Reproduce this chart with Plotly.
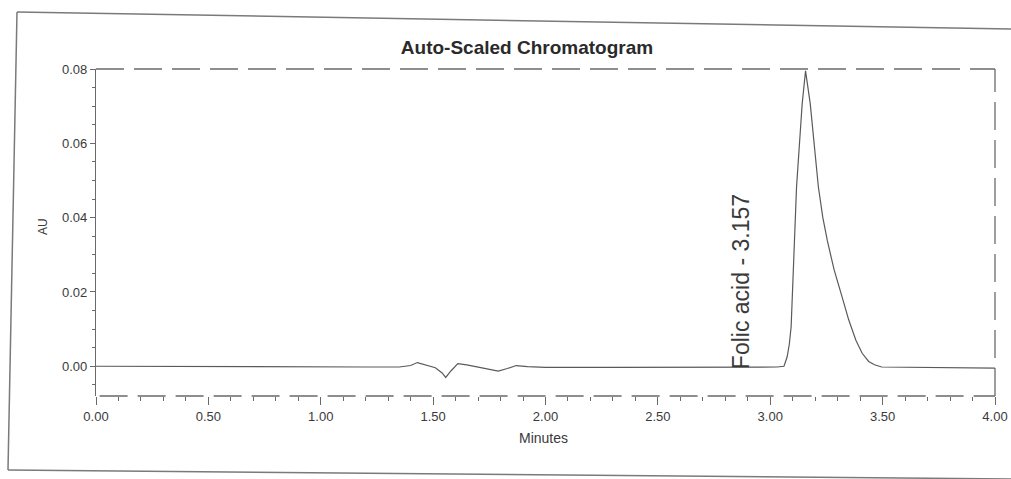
import plotly.graph_objects as go

# Retention time (min) and detector response (AU) of the trace
time_min = [0.00, 0.30, 0.60, 0.90, 1.20, 1.35, 1.40, 1.43, 1.47, 1.51, 1.54, 1.556,
            1.58, 1.61, 1.65, 1.70, 1.75, 1.79, 1.83, 1.87, 1.92, 2.00, 2.30, 2.60,
            2.90, 3.03, 3.061, 3.075, 3.085, 3.093, 3.117, 3.142, 3.157, 3.178,
            3.214, 3.234, 3.254, 3.284, 3.315, 3.349, 3.381, 3.409, 3.438, 3.464,
            3.496, 3.60, 3.80, 4.00]
absorbance = [0.0000, -0.0001, -0.0001, -0.0002, -0.0002, -0.0002, 0.0002, 0.0010,
              0.0002, -0.0004, -0.0018, -0.0030, -0.0012, 0.0007, 0.0004, -0.0002,
              -0.0008, -0.0013, -0.0006, 0.0002, -0.0001, -0.0003, -0.0003, -0.0003,
              -0.0002, -0.0002, 0.0000, 0.0025, 0.0060, 0.0107, 0.0483, 0.0706,
              0.0795, 0.0706, 0.0483, 0.0400, 0.0338, 0.0260, 0.0196, 0.0125,
              0.0070, 0.0035, 0.0013, 0.0004, -0.0002, -0.0003, -0.0004, -0.0005]

peak_name = "Folic acid"
peak_rt = 3.157
label_x = 2.867

x_ticks = [0.0, 0.5, 1.0, 1.5, 2.0, 2.5, 3.0, 3.5, 4.0]
x_tick_text = ["0.00", "0.50", "1.00", "1.50", "2.00", "2.50", "3.00", "3.50", "4.00"]
y_ticks = [0.00, 0.02, 0.04, 0.06, 0.08]
y_tick_text = ["0.00", "0.02", "0.04", "0.06", "0.08"]

W, H = 1011, 479
L, R, T, B = 96, 16, 69, 83
FONT = "Liberation Sans, Arial, sans-serif"
INK = "#6a6a6a"
TXT = "#3a3a3a"


def px(x):
    return (x - L) / (W - L - R)


def py(y):
    return (H - B - y) / (H - T - B)


fig = go.Figure()
fig.add_trace(go.Scatter(x=time_min, y=absorbance, mode="lines",
                         line=dict(color="#5a5a5a", width=1.2),
                         hoverinfo="skip", showlegend=False))

dash = "28px,10px"
shapes = [
    # dashed plot frame (top, right, bottom)
    dict(type="line", xref="paper", yref="paper", x0=0, x1=1, y0=1, y1=1,
         line=dict(color=INK, width=1.3, dash=dash)),
    dict(type="line", xref="paper", yref="paper", x0=1, x1=1, y0=0, y1=1,
         line=dict(color=INK, width=1.3, dash=dash)),
    dict(type="line", xref="paper", yref="paper", x0=0.004, x1=1, y0=0, y1=0,
         line=dict(color=INK, width=1.3, dash=dash)),
    # page frame
    dict(type="line", xref="paper", yref="paper", x0=px(17), x1=px(1011),
         y0=py(12), y1=py(29), line=dict(color="#7a7a7a", width=1.5)),
    dict(type="line", xref="paper", yref="paper", x0=px(17), x1=px(8),
         y0=py(12), y1=py(470), line=dict(color="#7a7a7a", width=1.5)),
    dict(type="line", xref="paper", yref="paper", x0=px(8), x1=px(1011),
         y0=py(470), y1=py(479), line=dict(color="#7a7a7a", width=1.5)),
]

annotations = [
    dict(x=label_x, y=0.0, xref="x", yref="y", text=f"{peak_name} - {peak_rt:.3f}",
         textangle=-90, showarrow=False, xanchor="center", yanchor="bottom",
         yshift=-5, font=dict(family=FONT, size=23, color=TXT)),
    dict(x=px(43), y=py(227), xref="paper", yref="paper", text="AU",
         textangle=-90, showarrow=False, xanchor="center", yanchor="middle",
         font=dict(family=FONT, size=12, color=TXT)),
    dict(x=px(543), y=py(438), xref="paper", yref="paper", text="Minutes",
         showarrow=False, xanchor="center", yanchor="middle",
         font=dict(family=FONT, size=14, color=TXT)),
]

fig.update_layout(
    width=W, height=H,
    margin=dict(l=L, r=R, t=T, b=B, autoexpand=False),
    paper_bgcolor="white", plot_bgcolor="white",
    title=dict(text="<b>Auto-Scaled Chromatogram</b>", x=527 / W, y=1 - 47 / H,
               xref="container", yref="container", xanchor="center", yanchor="middle",
               font=dict(family=FONT, size=19, color="#2a2a2a")),
    shapes=shapes, annotations=annotations,
    showlegend=False,
)
fig.update_xaxes(range=[0, 4], tickvals=x_ticks, ticktext=x_tick_text,
                 automargin=False,
                 showgrid=False, zeroline=False, showline=False,
                 ticks="outside", ticklen=8, tickcolor=INK, tickwidth=1,
                 minor=dict(dtick=0.1, ticks="outside", ticklen=4, tickcolor=INK),
                 tickfont=dict(family=FONT, size=13, color=TXT))
fig.update_yaxes(range=[-0.008, 0.08], tickvals=y_ticks, ticktext=y_tick_text,
                 automargin=False,
                 showgrid=False, zeroline=False, showline=True, linecolor=INK,
                 linewidth=1.2, ticks="outside", ticklen=5, tickcolor=INK,
                 minor=dict(dtick=0.005, ticks="outside", ticklen=3, tickcolor=INK),
                 tickfont=dict(family=FONT, size=13, color=TXT))

fig.write_html("out.html")
